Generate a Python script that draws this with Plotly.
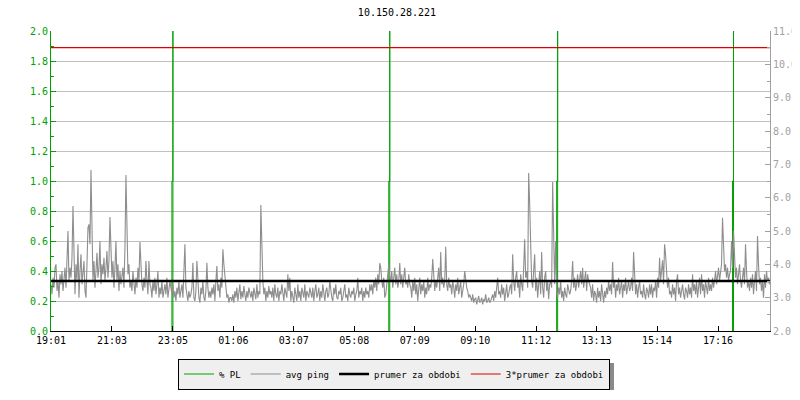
import plotly.graph_objects as go
import pandas as pd

title_text = "10.150.28.221"
start_time = "2024-05-01 19:01"
end_time = "2024-05-02 19:00"
sample_minutes = 2

# avg ping [ms], one value every 2 minutes
ping_ms = [
    3.4,3.1,3.6,3.3,3.9,4.0,3.2,3.5,3.0,3.7,3.4,3.8,3.2,3.6,3.9,3.3,4.4,5.0,3.5,3.9,
    3.6,4.2,5.75,4.4,3.1,4.0,3.5,4.6,3.0,3.8,4.3,3.4,3.9,4.1,3.2,3.0,4.0,5.1,5.2,4.6,
    6.83,5.3,3.5,4.1,3.3,3.8,4.35,3.6,3.9,4.7,3.4,4.0,3.7,4.2,3.5,3.9,4.4,3.6,4.1,5.42,
    4.4,3.6,4.1,3.3,3.9,4.7,3.5,4.0,3.2,3.8,3.4,3.6,3.9,3.3,4.5,6.68,5.1,3.7,4.0,3.3,
    3.5,3.2,3.8,3.4,3.1,3.6,3.3,3.9,3.5,4.67,3.7,3.4,3.2,3.6,3.3,4.1,3.5,3.1,4.1,3.4,
    3.3,3.0,3.5,3.2,3.6,3.1,3.4,3.8,3.0,3.3,3.1,3.5,3.0,3.2,3.4,3.1,3.6,3.0,3.3,3.5,
    3.3,3.1,3.4,3.0,3.2,2.9,3.3,3.1,3.5,3.0,3.2,3.4,3.0,4.0,4.6,3.3,3.1,2.9,3.2,3.0,
    3.1,3.3,4.05,3.0,2.9,3.2,4.1,3.4,3.0,2.85,3.3,3.1,3.5,3.0,2.9,3.2,4.05,3.3,3.0,3.2,
    3.0,3.3,3.1,3.4,2.9,3.5,3.95,3.2,3.4,3.0,3.6,3.3,4.45,4.0,3.7,3.2,3.0,3.1,2.85,3.0,
    3.0,2.9,3.1,2.85,3.2,3.0,3.3,2.9,3.1,3.4,2.95,3.2,3.0,3.35,3.1,2.9,3.2,3.0,3.3,3.1,
    3.0,3.2,2.9,3.3,3.1,2.95,3.4,3.0,3.2,3.1,5.78,4.3,3.5,3.1,3.3,2.9,3.2,3.0,3.35,3.1,
    3.2,3.0,3.3,2.9,3.4,3.1,3.0,3.3,2.9,3.2,3.1,3.4,3.0,2.9,3.3,3.1,3.0,3.7,3.2,3.6,
    2.9,3.2,3.0,2.85,3.3,3.1,2.9,3.4,3.0,3.2,2.9,3.3,3.1,3.0,3.4,2.9,3.2,3.1,3.0,3.3,
    3.1,3.0,3.3,2.9,3.2,3.4,3.0,3.1,3.3,2.9,3.2,3.0,3.4,3.1,2.9,3.2,3.3,3.0,3.1,3.5,
    3.2,3.0,2.9,3.3,3.1,3.4,3.0,2.95,3.2,3.1,3.3,2.9,3.0,3.2,3.4,3.0,3.1,2.9,3.3,3.1,
    3.0,3.2,3.1,3.3,2.9,3.1,3.2,3.6,3.0,3.2,3.1,3.3,2.9,3.2,3.0,3.3,3.1,3.2,3.0,3.4,
    3.2,3.4,3.1,3.5,3.3,3.6,3.2,3.7,3.4,4.04,3.9,3.5,3.3,3.6,3.0,3.1,3.4,3.8,4.0,3.6,
    3.5,3.8,3.3,3.6,3.9,3.4,3.7,3.3,3.5,4.04,3.4,3.7,3.3,3.6,3.9,3.4,3.5,3.3,3.7,3.4,
    3.3,3.0,3.5,3.2,3.6,3.1,3.4,2.9,3.3,3.6,3.1,3.4,3.2,3.5,3.0,3.3,3.1,3.6,3.2,3.4,
    3.3,3.6,4.16,3.4,3.2,3.5,3.3,3.6,3.9,3.2,4.37,3.4,3.6,3.3,3.5,4.53,3.4,3.2,3.6,3.3,
    3.4,3.1,3.5,3.3,3.0,3.4,3.2,3.6,3.1,3.3,3.5,3.0,3.2,3.4,3.8,3.5,3.3,3.2,3.0,3.1,
    3.0,2.9,3.1,2.85,2.95,3.0,2.8,2.9,3.05,2.85,2.9,3.0,2.8,2.95,2.9,3.1,2.85,2.9,3.0,2.85,
    2.9,3.0,3.1,2.9,3.2,3.0,3.3,3.6,3.1,3.2,3.0,3.4,3.1,3.3,2.9,3.2,3.4,3.0,3.1,3.3,
    3.4,3.1,4.3,3.5,3.2,3.6,3.8,3.3,3.5,3.0,3.7,3.4,3.2,3.9,4.75,3.6,3.8,3.3,6.74,5.8,
    4.2,3.5,3.3,3.7,4.3,3.2,3.6,3.0,3.4,3.8,3.1,4.37,3.3,3.0,3.6,3.8,3.2,3.5,2.95,3.4,
    3.5,3.3,6.47,4.67,3.4,4.7,3.2,3.0,3.3,3.1,3.5,3.0,3.2,2.9,3.3,3.1,3.0,3.4,3.2,3.1,
    3.2,3.5,4.1,3.3,3.6,3.2,3.4,3.7,3.3,3.5,3.8,3.4,3.9,3.3,3.6,3.8,3.2,3.7,3.5,3.4,
    3.3,3.0,3.4,2.9,3.2,3.1,2.85,3.3,3.0,3.2,2.9,3.4,3.1,2.85,3.2,3.0,3.3,3.1,3.5,3.2,
    3.4,3.1,4.07,3.3,3.5,3.0,3.4,3.2,3.6,3.1,3.3,3.5,3.0,3.4,3.2,3.6,3.1,3.3,3.5,3.2,
    3.3,3.6,3.2,4.37,3.9,3.1,3.4,3.0,3.3,3.5,3.1,3.2,3.0,3.4,3.1,2.95,3.3,3.2,3.0,3.4,
    3.1,3.4,3.0,3.3,3.2,3.5,3.0,3.6,3.3,4.2,3.5,3.8,4.12,3.4,4.6,4.3,3.9,3.3,3.6,3.1,
    3.2,3.0,3.4,3.1,3.3,2.9,3.5,3.7,3.1,3.3,3.0,3.2,3.4,3.1,2.95,3.3,3.2,3.0,3.4,3.1,
    3.3,3.0,3.7,3.2,3.4,3.1,3.5,3.0,3.3,3.6,3.1,3.7,3.2,3.4,3.0,3.5,3.3,3.1,3.6,3.2,
    3.4,3.2,3.6,3.3,3.5,3.8,3.4,3.6,3.9,3.5,3.7,4.0,5.4,4.6,3.8,4.0,3.6,3.9,3.5,3.7,
    3.8,4.7,3.9,5.0,4.2,3.6,3.9,3.4,3.7,4.0,3.5,3.3,3.6,3.9,3.4,4.6,3.8,3.3,3.5,3.2,
    3.6,3.3,3.7,3.1,3.5,3.8,3.2,4.85,4.0,3.4,3.6,3.2,3.5,3.0,3.7,3.3,3.8,3.5,3.6,3.4,
]

# packet loss events (% PL): sample time, level of the preceding sample, peak value
pl_event_times = ["2024-05-01 23:05", "2024-05-02 06:19", "2024-05-02 11:55", "2024-05-02 17:47"]
pl_prev_level = [1.0, 1.0, 1.0, 1.0]
pl_peak = [100, 100, 100, 100]

mean_ping = 3.5          # prumer za obdobi
mean_factor = 3          # 3*prumer za obdobi

tick_labels = ["19:01", "21:03", "23:05", "01:06", "03:07", "05:08",
               "07:09", "09:10", "11:12", "13:13", "15:14", "17:16"]

GREEN = "#00a000"
GRAY = "#8e8e8e"
AXGRAY = "#a0a0a0"
RED = "#e00000"
FONT = "DejaVu Sans Mono"

times = pd.date_range(start_time, periods=len(ping_ms), freq=f"{sample_minutes}min")
step = pd.Timedelta(minutes=sample_minutes)

# tick positions from the label texts
tickvals = []
day = pd.Timestamp(start_time).normalize()
prev = None
for lab in tick_labels:
    h, m = map(int, lab.split(":"))
    if prev is not None and h < prev:
        day = day + pd.Timedelta(days=1)
    prev = h
    tickvals.append(day + pd.Timedelta(hours=h, minutes=m))

pl_x, pl_y = [], []
for t, lvl, pk in zip(pl_event_times, pl_prev_level, pl_peak):
    t = pd.Timestamp(t)
    pl_x += [t - step, t - step, t, t, t, None]
    pl_y += [0, lvl, lvl, pk, 0, None]

fig = go.Figure()
fig.add_trace(go.Scatter(x=pl_x, y=pl_y, mode="lines", name="% PL",
                         line=dict(color=GREEN, width=1), yaxis="y", connectgaps=False))
fig.add_trace(go.Scatter(x=times, y=ping_ms, mode="lines", name="avg ping",
                         line=dict(color=GRAY, width=1.1), yaxis="y2"))
fig.add_trace(go.Scatter(x=[start_time, end_time], y=[mean_ping, mean_ping], mode="lines",
                         name="prumer za obdobi", line=dict(color="black", width=2.5), yaxis="y2"))
fig.add_trace(go.Scatter(x=[start_time, end_time], y=[mean_factor * mean_ping] * 2, mode="lines",
                         name="3*prumer za obdobi", line=dict(color=RED, width=1.2), yaxis="y2"))

# the page body adds an 8 px margin, so the figure is 8 px smaller than the window
PAGE_PAD = 8
W, H = 800 - PAGE_PAD, 400 - PAGE_PAD
L, R, T, B = 51 - PAGE_PAD, 30, 31 - PAGE_PAD, 69
pw, ph = W - L - R, H - T - B
PLOT_LEFT, PLOT_BOTTOM = 51, 331          # in window pixels
def px_x(p):
    return (p - PLOT_LEFT) / pw
def px_y(p):
    return (PLOT_BOTTOM - p) / ph

# legend box (window pixels) and its drop shadow
leg_cx, leg_top = 394, 358.5
box_l, box_r, box_t, box_b = 177, 611, 360, 387
shadow = dict(type="rect", xref="paper", yref="paper",
              x0=px_x(box_l + 3), x1=px_x(box_r + 3),
              y0=px_y(box_b + 3), y1=px_y(box_t + 3),
              fillcolor="#8a8a8a", line=dict(width=0))

fig.update_layout(
    width=W, height=H,
    margin=dict(l=L, r=R, t=T, b=B, autoexpand=False),
    paper_bgcolor="white", plot_bgcolor="white",
    font=dict(family=FONT, size=10, color="black"),
    title=dict(text=title_text, x=(397 - PAGE_PAD) / W, xref="container", xanchor="center",
               y=1 - (12 - PAGE_PAD) / H, yref="container", yanchor="middle",
               font=dict(family=FONT, size=10, color="black")),
    showlegend=True,
    legend=dict(orientation="h", x=px_x(leg_cx), xanchor="center",
                y=px_y(leg_top), yanchor="top",
                bgcolor="#efefef", bordercolor="black", borderwidth=1,
                font=dict(family=FONT, size=9, color="black"),
                itemwidth=30, tracegroupgap=0),
    shapes=[shadow],
    xaxis=dict(type="date", range=[start_time, end_time], automargin=False,
               showline=True, linecolor="black", linewidth=1,
               ticks="inside", ticklen=5, tickcolor="black",
               tickvals=tickvals, ticktext=tick_labels,
               showgrid=False, zeroline=False,
               tickfont=dict(family=FONT, size=10, color="black")),
    yaxis=dict(range=[0, 2], dtick=0.2, tick0=0, tickformat=".1f", automargin=False,
               showline=True, linecolor=GREEN, linewidth=1,
               ticks="inside", ticklen=5, tickcolor=GREEN,
               minor=dict(dtick=0.1, ticks="inside", ticklen=3, tickcolor=GREEN, showgrid=False),
               showgrid=True, gridcolor="#c0c0c0", gridwidth=1, zeroline=False,
               tickfont=dict(family=FONT, size=10, color=GREEN)),
    yaxis2=dict(range=[2, 11], dtick=1, tick0=2, tickformat=".1f", automargin=False,
                overlaying="y", side="right",
                showline=True, linecolor=AXGRAY, linewidth=1,
                ticks="inside", ticklen=5, tickcolor=AXGRAY,
                minor=dict(dtick=0.5, ticks="inside", ticklen=3, tickcolor=AXGRAY, showgrid=False),
                showgrid=False, zeroline=False,
                tickfont=dict(family=FONT, size=10, color=AXGRAY)),
)

fig.write_html("out.html")
